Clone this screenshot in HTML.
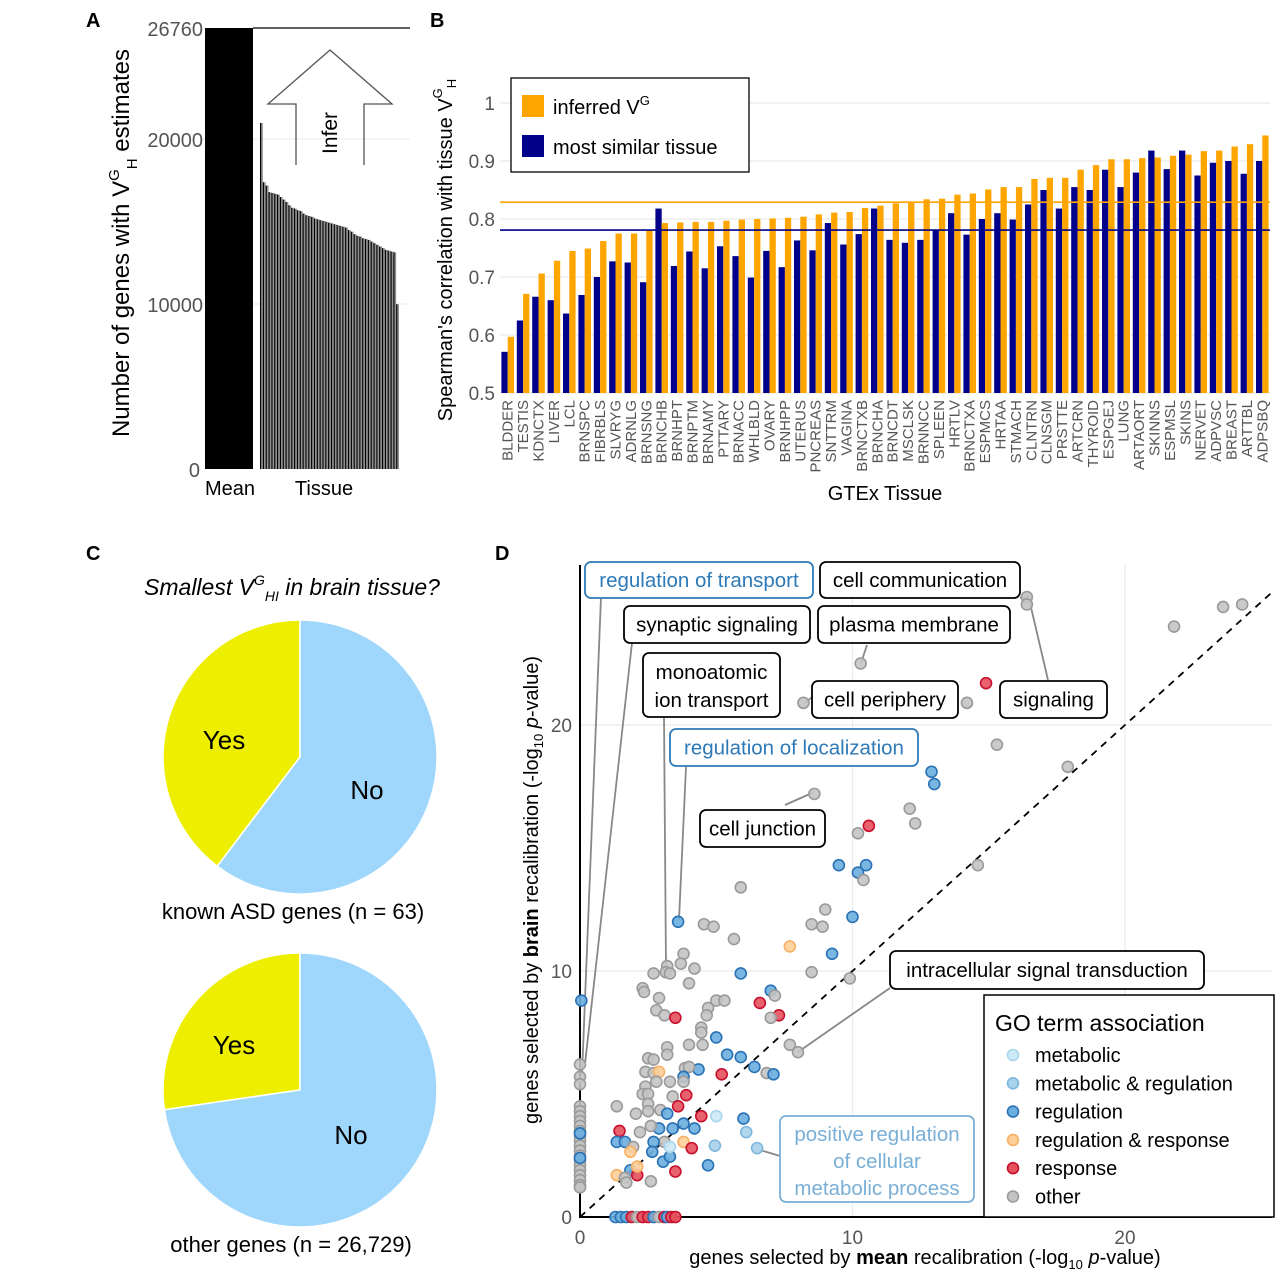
<!DOCTYPE html>
<html><head><meta charset="utf-8">
<style>
html,body{margin:0;padding:0;background:#fff;}
svg{display:block;font-family:"Liberation Sans",Arial,sans-serif;}
</style></head>
<body>
<svg id="fig" width="1275" height="1280" viewBox="0 0 1275 1280" xmlns="http://www.w3.org/2000/svg">
<text x="86" y="27" font-size="20" font-weight="bold">A</text>
<text x="430" y="27" font-size="20" font-weight="bold">B</text>
<text x="86" y="560" font-size="20" font-weight="bold">C</text>
<text x="495" y="560" font-size="20" font-weight="bold">D</text>

<g id="panelA">
  <line x1="200" y1="139" x2="410" y2="139" stroke="#ebebeb" stroke-width="1"/>
  <line x1="200" y1="304" x2="410" y2="304" stroke="#ebebeb" stroke-width="1"/>
  <line x1="253" y1="28" x2="410" y2="28" stroke="#000" stroke-width="1.2"/>
  <text x="203" y="36" font-size="20" fill="#555" text-anchor="end">26760</text>
  <text x="203" y="147" font-size="20" fill="#555" text-anchor="end">20000</text>
  <text x="203" y="312" font-size="20" fill="#555" text-anchor="end">10000</text>
  <text x="200" y="477" font-size="20" fill="#555" text-anchor="end">0</text>
  <text transform="translate(129,243) rotate(-90)" font-size="24" text-anchor="middle">Number of genes with V<tspan font-size="15" dy="-10">G</tspan><tspan font-size="15" dy="18">H</tspan><tspan dy="-8"> estimates</tspan></text>
  <path d="M296,165 L296,104 L268,104 L330,50 L392,104 L364,104 L364,165" fill="none" stroke="#555" stroke-width="1.3"/>
  <text transform="translate(337,133) rotate(-90)" font-size="21" text-anchor="middle">Infer</text>
  <text x="230" y="495" font-size="20" text-anchor="middle">Mean</text>
  <text x="324" y="495" font-size="20" text-anchor="middle">Tissue</text>
</g>

<g id="panelB">
  <text transform="translate(452,250) rotate(-90)" font-size="20" text-anchor="middle">Spearman's correlation with tissue V<tspan font-size="13" dy="-10">G</tspan><tspan font-size="13" dy="14">H</tspan></text>
  <text x="885" y="500" font-size="20" text-anchor="middle">GTEx Tissue</text>
</g>

<g id="panelC">
  <text x="292" y="595" font-size="23" font-style="italic" text-anchor="middle">Smallest V<tspan font-size="14" dy="-10">G</tspan><tspan font-size="14" dy="16">HI</tspan><tspan dy="-6"> in brain tissue?</tspan></text>
  <text x="293" y="919" font-size="22" text-anchor="middle">known ASD genes (n = 63)</text>
  <text x="291" y="1252" font-size="22" text-anchor="middle">other genes (n = 26,729)</text>
</g>

<g id="panelD">
  <text transform="translate(538,890) rotate(-90)" font-size="20" text-anchor="middle">genes selected by <tspan font-weight="bold">brain</tspan> recalibration (-log<tspan font-size="13" dy="5">10</tspan><tspan dy="-5"> </tspan><tspan font-style="italic">p</tspan>-value)</text>
  <text x="925" y="1264" font-size="20" text-anchor="middle">genes selected by <tspan font-weight="bold">mean</tspan> recalibration (-log<tspan font-size="13" dy="5">10</tspan><tspan dy="-5"> </tspan><tspan font-style="italic">p</tspan>-value)</text>
</g>
</svg>

<script>
const aMeanValue = 26760;
const aTissueValues = [21000,17400,17200,16800,16750,16700,16650,16500,16350,16200,16000,15850,15800,15700,15650,15500,15400,15350,15300,15200,15150,15100,15050,15000,14950,14900,14850,14800,14750,14700,14650,14500,14400,14250,14150,14100,14000,13950,13900,13800,13700,13600,13500,13400,13300,13250,13200,13150,10000];

const bTissues = ["BLDDER","TESTIS","KDNCTX","LIVER","LCL","BRNSPC","FIBRBLS","SLVRYG","ADRNLG","BRNSNG","BRNCHB","BRNHPT","BRNPTM","BRNAMY","PTTARY","BRNACC","WHLBLD","OVARY","BRNHPP","UTERUS","PNCREAS","SNTTRM","VAGINA","BRNCTXB","BRNCHA","BRNCDT","MSCLSK","BRNNCC","SPLEEN","HRTLV","BRNCTXA","ESPMCS","HRTAA","STMACH","CLNTRN","CLNSGM","PRSTTE","ARTCRN","THYROID","ESPGEJ","LUNG","ARTAORT","SKINNS","ESPMSL","SKINS","NERVET","ADPVSC","BREAST","ARTTBL","ADPSBQ"];
const bInferred = [0.597,0.671,0.706,0.728,0.745,0.749,0.762,0.775,0.775,0.780,0.793,0.794,0.795,0.795,0.797,0.799,0.800,0.801,0.802,0.804,0.808,0.811,0.812,0.819,0.823,0.827,0.828,0.834,0.835,0.842,0.844,0.851,0.855,0.855,0.869,0.871,0.871,0.885,0.893,0.903,0.903,0.905,0.906,0.909,0.911,0.917,0.918,0.925,0.929,0.944];
const bSimilar = [0.571,0.625,0.666,0.660,0.637,0.669,0.700,0.727,0.725,0.691,0.818,0.719,0.744,0.715,0.753,0.736,0.699,0.745,0.717,0.763,0.746,0.793,0.756,0.774,0.818,0.764,0.759,0.764,0.781,0.810,0.773,0.800,0.810,0.799,0.825,0.850,0.818,0.855,0.850,0.885,0.855,0.880,0.918,0.886,0.918,0.875,0.897,0.900,0.878,0.900];
const bMeanInferred = 0.829;
const bMeanSimilar = 0.781;
const bTicks = [0.5,0.6,0.7,0.8,0.9,1];
const bTickLabels = ["0.5","0.6","0.7","0.8","0.9","1"];

const cAsdYes = 25, cAsdNo = 38;
const cOtherYes = 0.273, cOtherNo = 0.727;

const dCategories = ["metabolic","metabolic & regulation","regulation","regulation & response","response","other"];
const dX = [16.4,16.4,24.3,23.6,21.8,10.3,14.9,14.2,8.2,15.3,17.9,12.9,13.0,8.6,12.1,12.3,10.6,10.2,9.5,10.5,10.2,10.4,14.6,5.9,
 3.6,4.55,4.9,5.65,9.0,8.5,8.9,10.0,7.7,9.25,3.8,3.7,3.2,2.7,3.15,3.3,4.2,4.0,5.9,8.5,9.9,2.3,2.35,0.05,2.9,7.0,7.15,6.6,7.3,7.0,2.8,3.1,3.5,5.0,5.3,4.7,4.65,4.45,4.45,5.0,4.0,4.5,3.2,3.2,5.4,5.9,6.4,6.85,7.1,7.7,8.0,5.2,4.35,2.5,2.7,2.4,2.7,2.9,2.8,3.85,4.0,3.8,3.3,3.8,2.4,2.3,2.5,1.35,2.5,2.5,2.95,3.4,3.9,3.6,2.05,3.2,4.45,5.0,6.0,6.1,6.5,4.95,3.8,4.2,3.4,2.9,2.2,2.6,1.45,1.35,1.65,1.95,1.85,3.8,4.1,3.1,2.7,2.65,3.05,3.3,3.3,4.7,3.5,1.85,2.1,1.35,1.65,1.7,2.6,2.1,
 1.3,1.5,1.7,1.9,2.1,2.3,2.5,2.7,2.9,3.1,3.2,3.35,3.5,
 0,0,0,0,0,0,0,0,0,0,0,0,0,0,0,0,0,0,0,0,0,0,0];
const dY = [25.2,24.9,24.9,24.8,24.0,22.5,21.7,20.9,20.9,19.2,18.3,18.1,17.6,17.2,16.6,16.0,15.9,15.6,14.3,14.3,14.0,13.7,14.3,13.4,
 12.0,11.9,11.8,11.3,12.5,11.9,11.8,12.2,11.0,10.7,10.7,10.3,10.2,9.9,9.95,9.9,10.1,9.5,9.9,9.95,9.7,9.3,9.15,8.8,8.9,9.2,9.0,8.7,8.2,8.1,8.4,8.2,8.1,8.8,8.8,8.5,8.2,7.7,7.5,7.3,7.0,7.0,6.9,6.6,6.6,6.5,6.1,5.85,5.8,7.0,6.7,5.8,6.0,6.45,6.4,5.9,5.85,5.9,5.5,6.05,6.1,5.7,5.5,5.5,5.3,5.0,5.0,4.5,4.6,4.3,4.35,4.9,4.95,4.5,4.2,4.2,4.1,4.1,4.0,3.45,2.8,2.9,3.8,3.6,3.6,3.6,3.45,3.7,3.5,3.05,3.05,2.85,2.65,3.05,2.8,3.05,3.05,2.65,2.25,2.45,2.85,2.1,1.85,1.9,1.7,1.7,1.6,1.4,1.45,2.05,
 0,0,0,0,0,0,0,0,0,0,0,0,0,
 6.2,5.7,5.4,4.5,4.3,4.1,3.9,3.7,3.5,3.3,3.1,2.9,2.7,2.5,2.3,2.1,1.9,1.7,1.5,1.3,1.2,3.4,2.4];
const dCat = [5,5,5,5,5,5,4,5,5,5,5,2,2,5,5,5,4,5,2,2,2,5,5,5,
 2,5,5,5,5,5,5,2,3,2,5,5,5,5,5,5,5,5,2,5,5,5,5,2,5,2,5,4,4,5,5,5,4,5,5,5,5,5,5,2,5,5,5,5,2,2,2,5,2,5,5,4,2,5,5,5,5,3,5,5,5,2,5,5,5,5,5,5,5,5,5,5,4,4,5,2,4,0,2,1,1,1,2,2,2,2,5,5,4,2,2,5,3,3,4,5,2,2,2,2,0,2,4,2,4,3,5,5,5,3,
 2,2,2,4,5,4,4,2,5,4,2,4,4,
 5,5,5,5,5,5,5,5,5,5,5,5,5,5,5,5,5,5,5,5,5,2,2];
const dXTicks = [0,10,20];
const dYTicks = [0,10,20];

const NS = "http://www.w3.org/2000/svg";
const svg = document.getElementById('fig');
function mk(tag, attrs, parent){ const e=document.createElementNS(NS,tag); for(const k in attrs) e.setAttribute(k,attrs[k]); (parent||svg).appendChild(e); return e; }

// Panel A
const aY = v => 469 - v*(469-28)/26760;
const gA = document.getElementById('panelA');
let r = mk('rect',{x:205,y:aY(aMeanValue),width:48,height:469-aY(aMeanValue),fill:'#000'},gA);


const aStep = (399-260)/aTissueValues.length;
aTissueValues.forEach((v,i)=>{
  const x = 260 + i*aStep;
  const b = mk('rect',{x:x,y:aY(v),width:aStep,height:469-aY(v),fill:'#909090'},gA);
  
  
  mk('rect',{x:x,y:aY(v),width:aStep*0.4,height:469-aY(v),fill:'#000'},gA);
});

// Panel B
const gB = document.getElementById('panelB');
const bY = v => 393 - (v-0.5)*580;
const bX0 = 500, bBand = 15.4;
bTicks.forEach((t,i)=>{
  const gl = mk('line',{x1:bX0,x2:1270,y1:bY(t),y2:bY(t),stroke:'#ebebeb','stroke-width':1.2},gB);
  
  
  const tl = mk('text',{x:495,y:bY(t)+7,'font-size':19,fill:'#555','text-anchor':'end'},gB);
  tl.textContent = bTickLabels[i];
  
  
});
bTissues.forEach((name,i)=>{
  const c = bX0 + bBand*(i+0.5);
  const n = mk('rect',{x:c-6.3,y:bY(bSimilar[i]),width:6.3,height:393-bY(bSimilar[i]),fill:'#00008b'},gB);
  
  
  const o = mk('rect',{x:c,y:bY(bInferred[i]),width:6.3,height:393-bY(bInferred[i]),fill:'#ffa500'},gB);
  
  
  const t = mk('text',{transform:`translate(${c+5},400) rotate(-90)`,'font-size':15,fill:'#555','text-anchor':'end'},gB);
  t.textContent = name;
  
  
});
let ml = mk('line',{x1:bX0,x2:1270,y1:bY(bMeanInferred),y2:bY(bMeanInferred),stroke:'#ffa500','stroke-width':1.6},gB);


ml = mk('line',{x1:bX0,x2:1270,y1:bY(bMeanSimilar),y2:bY(bMeanSimilar),stroke:'#00008b','stroke-width':1.6},gB);


const bl = mk('g',{},gB);


mk('rect',{x:511,y:78,width:238,height:94,fill:'#fff',stroke:'#000','stroke-width':1.3},bl);
mk('rect',{x:522,y:95,width:22,height:22,fill:'#ffa500'},bl);
mk('rect',{x:522,y:135,width:22,height:22,fill:'#00008b'},bl);
let lt = mk('text',{x:553,y:114,'font-size':20},bl); lt.innerHTML='inferred V<tspan font-size="13" dy="-9">G</tspan>';
lt = mk('text',{x:553,y:154,'font-size':20},bl); lt.textContent='most similar tissue';

// Panel C
const gC = document.getElementById('panelC');
function pie(cx,cy,rad,yesFrac,tag,yesPos,noPos){
  const ang = yesFrac*2*Math.PI;
  const ex = cx - rad*Math.sin(ang), ey = cy - rad*Math.cos(ang);
  const large = yesFrac>0.5?1:0;
  const y = mk('path',{d:`M${cx},${cy} L${cx},${cy-rad} A${rad},${rad} 0 ${large} 0 ${ex},${ey} Z`,fill:'#eeee00',stroke:'#fff','stroke-width':1.5},gC);
  
  
  const n = mk('path',{d:`M${cx},${cy} L${cx},${cy-rad} A${rad},${rad} 0 ${1-large} 1 ${ex},${ey} Z`,fill:'#9fd6fb',stroke:'#fff','stroke-width':1.5},gC);
  
  
  let t = mk('text',{x:yesPos[0],y:yesPos[1],'font-size':26,'text-anchor':'middle'},gC); t.textContent='Yes';
  
  
  t = mk('text',{x:noPos[0],y:noPos[1],'font-size':26,'text-anchor':'middle'},gC); t.textContent='No';
  
  
}
pie(300,757,137,cAsdYes/(cAsdYes+cAsdNo),'asd-pie',[224,749],[367,799]);
pie(300,1090,137,cOtherYes/(cOtherYes+cOtherNo),'other-pie',[234,1054],[351,1144]);

// Panel D
const gD = document.getElementById('panelD');
const dPX = v => 580 + v*27.25;
const dPY = v => 1217 - v*24.6;
dXTicks.forEach(t=>{
  if(t>0){ const g=mk('line',{x1:dPX(t),x2:dPX(t),y1:565,y2:1217,stroke:'#ebebeb','stroke-width':1.2},gD);
      }
  const tl = mk('text',{x:dPX(t),y:1244,'font-size':19,fill:'#555','text-anchor':'middle'},gD); tl.textContent=t;
  
  
});
dYTicks.forEach(t=>{
  if(t>0){ const g=mk('line',{x1:580,x2:1272,y1:dPY(t),y2:dPY(t),stroke:'#ebebeb','stroke-width':1.2},gD);
      }
  const tl = mk('text',{x:572,y:dPY(t)+7,'font-size':19,fill:'#555','text-anchor':'end'},gD); tl.textContent=t;
  
  
});
let ax = mk('line',{x1:580,x2:580,y1:565,y2:1218,stroke:'#000','stroke-width':2},gD);
 
ax = mk('line',{x1:579,x2:1272,y1:1217,y2:1217,stroke:'#000','stroke-width':2},gD);
 
const dmax = (1272-580)/27.25;
let dl = mk('line',{x1:dPX(0),y1:dPY(0),x2:dPX(dmax),y2:dPY(dmax),stroke:'#000','stroke-width':1.8,'stroke-dasharray':'7,6'},gD);



const leaders = [[601,597,582,1075],[632,643,585,1064],[664,718,666,968],[686,767,679,920],[785,805,812,793],[867,645,861,663],[812,697,804,704],[1048,680,1030,603],[1020,598,1030,596],[890,988,798,1052],[780,1156,760,1150]];
leaders.forEach(l=>{ const e=mk('line',{x1:l[0],y1:l[1],x2:l[2],y2:l[3],stroke:'#888','stroke-width':1.8},gD);
    });

const fills = ['#cde9f6','#a8d1ea','#6aaede','#fdcf98','#e4515c','#c4c4c4'];
const strokes = ['#a9d6ee','#7fb7dc','#2a72b5','#f7b066','#c8102e','#9a9a9a'];
dX.forEach((x,i)=>{
  const c = dCat[i];
  const p = mk('circle',{cx:dPX(x),cy:dPY(dY[i]),r:5.5,fill:fills[c],stroke:strokes[c],'stroke-width':1.6,'fill-opacity':0.9},gD);
  
  
});

const boxes = [
 ['regulation of transport',585,562,228,36,'#2e7ab8'],
 ['cell communication',820,562,200,36,'#000'],
 ['synaptic signaling',624,606,186,37,'#000'],
 ['plasma membrane',818,606,192,37,'#000'],
 ['signaling',1000,681,107,37,'#000'],
 ['cell periphery',812,681,146,37,'#000'],
 ['regulation of localization',670,729,248,37,'#2e7ab8'],
 ['cell junction',700,810,125,37,'#000'],
 ['intracellular signal transduction',890,951,314,38,'#000']
];
boxes.forEach(b=>{
  const g = mk('g',{},gD);
  
  
  mk('rect',{x:b[1],y:b[2],width:b[3],height:b[4],rx:6,fill:'#fff',stroke:b[5],'stroke-width':1.8},g);
  const t = mk('text',{x:b[1]+b[3]/2,y:b[2]+b[4]/2+7,'font-size':20.5,fill:b[5],'text-anchor':'middle'},g);
  t.textContent=b[0];
});
function multiBox(lines,x,y,w,h,col,name,lh,y0){
  const g = mk('g',{},gD);
  
  
  mk('rect',{x:x,y:y,width:w,height:h,rx:6,fill:'#fff',stroke:col,'stroke-width':1.8},g);
  lines.forEach((s,i)=>{ const t=mk('text',{x:x+w/2,y:y0+i*lh,'font-size':20.5,fill:col,'text-anchor':'middle'},g); t.textContent=s; });
}
multiBox(['monoatomic','ion transport'],643,653,137,64,'#000','go-label-monoatomic-ion-transport',28,679);
multiBox(['positive regulation','of cellular','metabolic process'],780,1116,194,86,'#7aafd6','go-label-positive-regulation-metabolic',27,1141);

const lg = mk('g',{},gD);


mk('rect',{x:984,y:995,width:290,height:222,fill:'#fff',stroke:'#000','stroke-width':1.5},lg);
let tt = mk('text',{x:995,y:1031,'font-size':23},lg); tt.textContent='GO term association';
dCategories.forEach((c,i)=>{
  const y = 1055 + i*28.3;
  const e = mk('circle',{cx:1013,cy:y,r:5.5,fill:fills[i],stroke:strokes[i],'stroke-width':1.6},lg);
  
  
  const t = mk('text',{x:1035,y:y+7,'font-size':20},lg); t.textContent=c;
});
</script>
</body></html>
